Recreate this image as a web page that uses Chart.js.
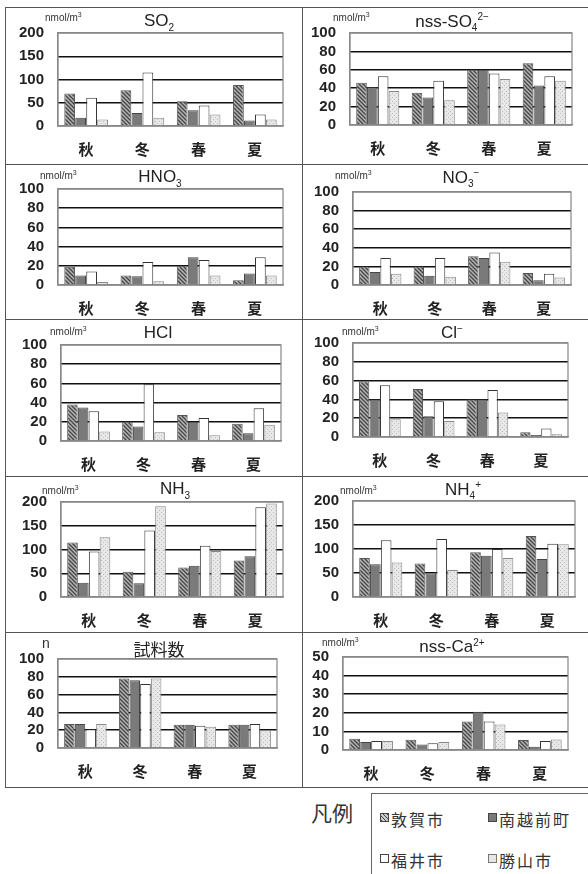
<!DOCTYPE html>
<html>
<head>
<meta charset="utf-8">
<script src="https://cdn.jsdelivr.net/npm/chart.js@4.4.1/dist/chart.umd.min.js"></script>
<style>
    body { margin: 0; background: #fff; font-family: "Liberation Sans", Arial, sans-serif; }
    #page { position: relative; width: 588px; height: 874px; overflow: hidden; }
    .box { position: absolute; box-sizing: border-box; border: 1.5px solid #555; }
    #page canvas { position: absolute; }
    .ttl { position: absolute; font-size: 17px; color: #222; transform: translate(-50%, -50%); white-space: nowrap; }
    .ttl sub, .ttl sup { font-size: 10px; }
    .unit { position: absolute; font-size: 10px; color: #333; transform: translateY(-50%); white-space: nowrap; }
    .unit sup { font-size: 7px; }
    #hanrei { position: absolute; left: 311px; top: 797px; font-family: "Noto Sans CJK JP"; font-size: 21px; color: #333; }
    #legend { position: absolute; left: 371px; top: 793px; width: 240px; height: 100px; box-sizing: border-box; border: 1.5px solid #666; }
    .item { position: absolute; font-family: "Noto Sans CJK JP"; font-size: 16px; letter-spacing: 2px; color: #333; line-height: 20px; }
    .sw { display: inline-block; width: 7px; height: 7px; border: 1px solid #444; margin-right: 2px; vertical-align: 4px; }
</style>
</head>
<body>
<div id="page"></div>
<script>
// seasons and sites
const seasons = ["秋", "冬", "春", "夏"];
const sites = ["敦賀市", "南越前町", "福井市", "勝山市"];

// values: one row per site, one column per season
const so2 = [[70, 77, 53, 88], [18, 28, 34, 12], [61, 115, 44, 25], [14, 18, 25, 14]];
const nssSo4 = [[46, 35, 60, 67], [41, 30, 60, 43], [53, 48, 56, 53], [37, 27, 50, 48]];
const hno3 = [[19, 10, 20, 5], [10, 9, 29, 12], [14, 24, 26, 29], [3, 4, 10, 10]];
const no3 = [[20, 20, 31, 13], [14, 10, 29, 5], [29, 29, 35, 12], [12, 9, 25, 8]];
const hcl = [[38, 20, 27, 18], [35, 15, 20, 8], [31, 59, 24, 34], [10, 9, 6, 17]];
const cl = [[59, 51, 40, 5], [40, 22, 40, 2], [55, 38, 50, 9], [19, 17, 26, 3]];
const nh3 = [[115, 53, 62, 77], [30, 29, 66, 86], [96, 140, 108, 189], [126, 191, 97, 197]];
const nh4 = [[81, 70, 93, 127], [68, 49, 86, 79], [118, 121, 100, 111], [72, 56, 81, 110]];
const samples = [[27, 78, 26, 26], [27, 76, 26, 26], [21, 72, 25, 27], [27, 78, 24, 20]];
const nssCa = [[6, 5.5, 15.3, 5.4], [4.3, 3, 20.5, 1.8], [4.9, 3.6, 15.3, 4.9], [4.9, 4.3, 13.7, 5.6]];

// axis ranges
const yMax = [200, 100, 100, 100, 100, 100, 200, 200, 100, 50];
const yStep = [50, 20, 20, 20, 20, 20, 50, 50, 20, 10];
const titles = ["SO<sub>2</sub>", "nss-SO<sub>4</sub><sup>2−</sup>", "HNO<sub>3</sub>", "NO<sub>3</sub><sup>−</sup>", "HCl",
    "Cl<sup>−</sup>", "NH<sub>3</sub>", "NH<sub>4</sub><sup>+</sup>", "試料数", "nss-Ca<sup>2+</sup>"];
const units = ["nmol/m<sup>3</sup>", "nmol/m<sup>3</sup>", "nmol/m<sup>3</sup>", "nmol/m<sup>3</sup>", "nmol/m<sup>3</sup>",
    "nmol/m<sup>3</sup>", "nmol/m<sup>3</sup>", "nmol/m<sup>3</sup>", "n", "nmol/m<sup>3</sup>"];
const allData = [so2, nssSo4, hno3, no3, hcl, cl, nh3, nh4, samples, nssCa];

// layout (page px)
const colX = [[5, 302], [302, 592]];
const rowY = [[7, 164], [164, 319], [319, 476], [476, 632], [632, 787]];
const plots = [
    [58, 33, 283, 126], [350, 33, 572, 125],
    [58, 189, 283, 285], [353, 192, 571, 285],
    [61, 345, 281, 441], [353, 343, 568, 437],
    [61, 502, 283, 597], [353, 501, 575, 597],
    [58, 659, 277, 748], [343, 657, 568, 750]
];
const titlePos = [[159, 22], [452, 22], [160, 178], [461, 178], [158, 333], [452, 333], [175, 490], [463, 490], [159, 648], [452, 647]];
const unitPos = [[45, 17], [333, 17], [40, 175], [335, 175], [50, 331], [342, 331], [42, 490], [340, 490], [42, 643], [322, 642]];
const Y_AXIS_W = 40;

function makePattern(kind) {
    const c = document.createElement("canvas");
    c.width = 4; c.height = 4;
    const g = c.getContext("2d");
    if (kind === "hatch") {
        g.fillStyle = "#b4b4b4"; g.fillRect(0, 0, 4, 4);
        g.strokeStyle = "#444"; g.lineWidth = 1.3;
        g.beginPath();
        g.moveTo(0, 0); g.lineTo(4, 4);
        g.moveTo(-2, 2); g.lineTo(2, 6);
        g.moveTo(2, -2); g.lineTo(6, 2);
        g.stroke();
    } else {
        g.fillStyle = "#e8e8e8"; g.fillRect(0, 0, 4, 4);
        g.fillStyle = "#bdbdbd"; g.fillRect(0, 0, 1, 1); g.fillRect(2, 2, 1, 1);
    }
    return g.createPattern(c, "repeat");
}

const fills = [makePattern("hatch"), "#7a7a7a", "#ffffff", makePattern("dots")];
const borders = ["#555", "#444", "#333", "#888"];

const plotFrame = {
    id: "plotFrame",
    afterDraw(chart) {
        const a = chart.chartArea, ctx = chart.ctx;
        ctx.save();
        ctx.strokeStyle = "#888";
        ctx.lineWidth = 1.2;
        ctx.strokeRect(a.left, a.top, a.right - a.left, a.bottom - a.top);
        ctx.restore();
    }
};

const page = document.getElementById("page");

allData.forEach((rows, i) => {
    const col = colX[i % 2], row = rowY[Math.floor(i / 2)];
    const p = plots[i];
    const w = col[1] - col[0], h = row[1] - row[0];
    const xAxisH = row[1] - p[3];

    const box = document.createElement("div");
    box.className = "box";
    box.style.cssText = `left:${col[0]}px;top:${row[0]}px;width:${w + 1}px;height:${h + 1}px;`;
    page.appendChild(box);

    const canvas = document.createElement("canvas");
    canvas.width = w; canvas.height = h;
    canvas.style.left = col[0] + "px"; canvas.style.top = row[0] + "px";
    page.appendChild(canvas);

    const ttl = document.createElement("div");
    ttl.className = "ttl";
    ttl.innerHTML = titles[i];
    ttl.style.left = titlePos[i][0] + "px"; ttl.style.top = titlePos[i][1] + "px";
    if (i === 8) ttl.style.fontFamily = '"Noto Sans CJK JP"';
    page.appendChild(ttl);

    const unit = document.createElement("div");
    unit.className = "unit";
    unit.innerHTML = units[i];
    unit.style.left = unitPos[i][0] + "px"; unit.style.top = unitPos[i][1] + "px";
    if (i === 8) unit.style.fontSize = "14px";
    page.appendChild(unit);

    const max = yMax[i];
    new Chart(canvas.getContext("2d"), {
        type: "bar",
        data: {
            labels: seasons,
            datasets: sites.map((s, k) => ({
                label: s,
                data: rows[k],
                backgroundColor: fills[k],
                borderColor: borders[k],
                borderWidth: 1,
                categoryPercentage: 0.78,
                barPercentage: 0.98
            }))
        },
        options: {
            responsive: false,
            animation: false,
            devicePixelRatio: 1,
            layout: {
                padding: {
                    left: p[0] - col[0] - Y_AXIS_W,
                    right: col[1] - p[2],
                    top: p[1] - row[0],
                    bottom: 0
                }
            },
            plugins: { legend: { display: false }, tooltip: { enabled: false } },
            scales: {
                x: {
                    grid: { display: false },
                    border: { color: "#888", width: 1.2 },
                    ticks: { padding: 6, color: "#222", font: { family: '"Noto Sans CJK JP"', size: 15, weight: "bold" } },
                    afterFit(scale) { scale.height = xAxisH; }
                },
                y: {
                    min: 0, max: max,
                    ticks: { stepSize: yStep[i], autoSkip: false, padding: 14, color: "#222", font: { family: '"Liberation Sans"', size: 15, weight: "bold" } },
                    grid: {
                        drawTicks: false,
                        lineWidth: 1.5,
                        color: ctx => (ctx.tick.value === 0 || ctx.tick.value === max) ? "#888" : "#111"
                    },
                    border: { color: "#888", width: 1.2 },
                    afterFit(scale) { scale.width = Y_AXIS_W; }
                }
            }
        },
        plugins: [plotFrame]
    });
});

// legend
const hanrei = document.createElement("div");
hanrei.id = "hanrei"; hanrei.textContent = "凡例";
page.appendChild(hanrei);
const legend = document.createElement("div");
legend.id = "legend";
page.appendChild(legend);

const swatchCss = [
    "background:repeating-linear-gradient(45deg,#444 0 1px,#ccc 1px 3px);",
    "background:#7a7a7a;",
    "background:#fff;",
    "background:#e6e6e6;border-color:#777;"
];
const itemPos = [[380, 809], [488, 809], [380, 850], [488, 850]];
sites.forEach((s, k) => {
    const it = document.createElement("div");
    it.className = "item";
    it.style.left = itemPos[k][0] + "px"; it.style.top = itemPos[k][1] + "px";
    it.innerHTML = `<span class="sw" style="${swatchCss[k]}"></span>${s}`;
    page.appendChild(it);
});
</script>
</body>
</html>
